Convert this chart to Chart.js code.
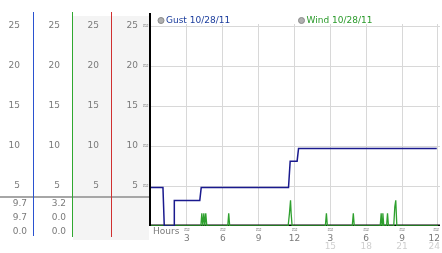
<!DOCTYPE html>
<html><head><meta charset="utf-8">
<script src="https://cdn.jsdelivr.net/npm/chart.js@4"></script>
<style>html,body{margin:0;padding:0;background:#fff;overflow:hidden}canvas{display:block}</style>
</head><body><canvas id="c" width="442" height="253" style="width:442px;height:253px"></canvas>
<script>
// ---- data ----
const gustHours  = [0, 1.0, 1.11, 1.94, 1.95, 4.08, 4.2, 11.5, 11.64, 12.22, 12.34, 23.9];
const gustValues = [4.8, 4.8, 0, 0, 3.2, 3.2, 4.8, 4.8, 8.1, 8.1, 9.7, 9.7];
const windHours  = [0, 4.17, 4.25, 4.33, 4.42, 4.5, 4.58, 4.67, 6.42, 6.5, 6.58,
                    11.47, 11.58, 11.67, 11.72, 11.8, 14.58, 14.67, 14.75, 16.83, 16.92, 17.0,
                    19.17, 19.25, 19.32, 19.39, 19.47, 19.7, 19.78, 19.86, 20.3, 20.39, 20.47, 20.56, 24.0];
const windValues = [0, 0, 1.6, 0, 1.6, 0, 1.6, 0, 0, 1.6, 0,
                    0, 1.6, 3.2, 1.6, 0, 0, 1.6, 0, 0, 1.6, 0,
                    0, 1.6, 0, 1.6, 0, 0, 1.6, 0, 0, 2.4, 3.2, 0, 0];
const seriesLabels = ["Gust 10/28/11", "Wind 10/28/11"];
const yTicks = [5, 10, 15, 20, 25];
const xTicks = [3, 6, 9, 12, 15, 18, 21, 24];
const xTickLabels  = ["3", "6", "9", "12", "3", "6", "9", "12"];
const xTickLabels2 = ["", "", "", "", "15", "18", "21", "24"];
const statColumns = [["9.7", "9.7", "0.0"], ["3.2", "0.0", "0.0"], [], []];
const xAxisTitle = "Hours";

const FONT = '9px "DejaVu Sans", Verdana, sans-serif';
const MARK = '8px "DejaVu Sans", sans-serif';
const GUST = '#1a1a8e', WIND = '#2ea02e';

const panel = {
  id: 'panel',
  beforeDraw(chart) {
    const ctx = chart.ctx, ys = chart.scales.y;
    ctx.save();
    ctx.fillStyle = '#fff'; ctx.fillRect(0, 0, 442, 253);
    ctx.fillStyle = '#f4f4f4'; ctx.fillRect(73, 16, 76, 224);
    // separator line
    ctx.fillStyle = '#a6a6a6'; ctx.fillRect(0, 196, 150, 2);
    // column lines
    ctx.fillStyle = '#2a52d0'; ctx.fillRect(33, 12, 1, 224);
    ctx.fillStyle = '#30a830'; ctx.fillRect(72, 12, 1, 225);
    ctx.fillStyle = '#d03030'; ctx.fillRect(111, 12, 1, 225);
    // y labels in 4 columns
    ctx.font = FONT; ctx.fillStyle = '#7a7a7a'; ctx.textAlign = 'right'; ctx.textBaseline = 'middle';
    const colRight = [20, 60, 99, 138];
    yTicks.forEach(v => {
      const py = ys.getPixelForValue(v);
      colRight.forEach(cx => ctx.fillText(String(v), cx, py));
    });
    ctx.font = MARK; ctx.fillStyle = '#888'; ctx.textAlign = 'center';
    yTicks.forEach(v => ctx.fillText('≈', 145.5, ys.getPixelForValue(v)));
    // stats
    ctx.font = FONT; ctx.fillStyle = '#7a7a7a'; ctx.textAlign = 'right';
    const statRight = [27, 66, 105, 144];
    const statY = [204, 218, 232];
    statColumns.forEach((col, i) => col.forEach((s, j) => ctx.fillText(s, statRight[i], statY[j])));
    ctx.restore();
  },
  beforeDatasetsDraw(chart) {
    const ctx = chart.ctx, a = chart.chartArea;
    ctx.save();
    ctx.fillStyle = '#000';
    ctx.fillRect(a.left, a.bottom - 1.5, a.right - a.left, 1.5);
    ctx.restore();
  },
  afterDraw(chart) {
    const ctx = chart.ctx, a = chart.chartArea, xs = chart.scales.x;
    ctx.save();
    // white band for legend
    ctx.fillStyle = '#fff'; ctx.fillRect(a.left, 10, 442 - a.left, 14);
    // y axis
    ctx.fillStyle = '#000'; ctx.fillRect(149, 13, 2, a.bottom - 13);
    // legend
    const legendX = [161, 301.5];
    const colors = ['#1a3c9c', '#2a9a2a'];
    chart.data.datasets.forEach((ds, i) => {
      ctx.beginPath(); ctx.arc(legendX[i], 20.5, 3, 0, Math.PI * 2);
      ctx.fillStyle = '#b0b0b0'; ctx.fill();
      ctx.strokeStyle = '#8a8a8a'; ctx.lineWidth = 1; ctx.stroke();
      ctx.font = FONT; ctx.fillStyle = colors[i]; ctx.textAlign = 'left'; ctx.textBaseline = 'middle';
      ctx.fillText(ds.label, legendX[i] + 5, 20.5);
    });
    // x labels
    ctx.font = FONT; ctx.textBaseline = 'middle';
    ctx.fillStyle = '#7a7a7a'; ctx.textAlign = 'left';
    ctx.fillText(xAxisTitle, 153, 232);
    xTicks.forEach((t, i) => {
      const px = xs.getPixelForValue(t);
      ctx.font = MARK; ctx.fillStyle = '#888'; ctx.textAlign = 'center';
      ctx.fillText('≈', Math.min(px, 436), 230);
      ctx.font = FONT;
      const w = ctx.measureText(xTickLabels[i]).width;
      const cx = Math.min(px, 440 - w / 2);
      ctx.fillStyle = '#7a7a7a'; ctx.fillText(xTickLabels[i], cx, 238.5);
      if (xTickLabels2[i]) {
        const w2 = ctx.measureText(xTickLabels2[i]).width;
        ctx.fillStyle = '#cfcfcf'; ctx.fillText(xTickLabels2[i], Math.min(px, 440 - w2 / 2), 247);
      }
    });
    ctx.restore();
  }
};

new Chart(document.getElementById('c'), {
  type: 'line',
  data: {
    datasets: [
      { label: seriesLabels[0], data: gustHours.map((h, i) => ({ x: h, y: gustValues[i] })),
        borderColor: GUST, borderWidth: 1.5, pointRadius: 0, tension: 0, fill: false },
      { label: seriesLabels[1], data: windHours.map((h, i) => ({ x: h, y: windValues[i] })),
        borderColor: WIND, borderWidth: 1.3, pointRadius: 0, tension: 0, fill: false }
    ]
  },
  options: {
    responsive: false, animation: false, devicePixelRatio: 1,
    layout: { padding: { left: 151, right: 2, top: 13, bottom: 27 } },
    plugins: { legend: { display: false }, tooltip: { enabled: false } },
    scales: {
      x: { type: 'linear', min: 0, max: 24.17,
           afterBuildTicks: s => { s.ticks = xTicks.map(v => ({ value: v })); },
           ticks: { display: false }, border: { display: false },
           grid: { color: '#d8d8d8', lineWidth: 1, drawTicks: false } },
      y: { min: 0, max: 26.625,
           afterBuildTicks: s => { s.ticks = yTicks.map(v => ({ value: v })); },
           ticks: { display: false }, border: { display: false },
           grid: { color: '#d8d8d8', lineWidth: 1, drawTicks: false } }
    }
  },
  plugins: [panel]
});
</script></body></html>
